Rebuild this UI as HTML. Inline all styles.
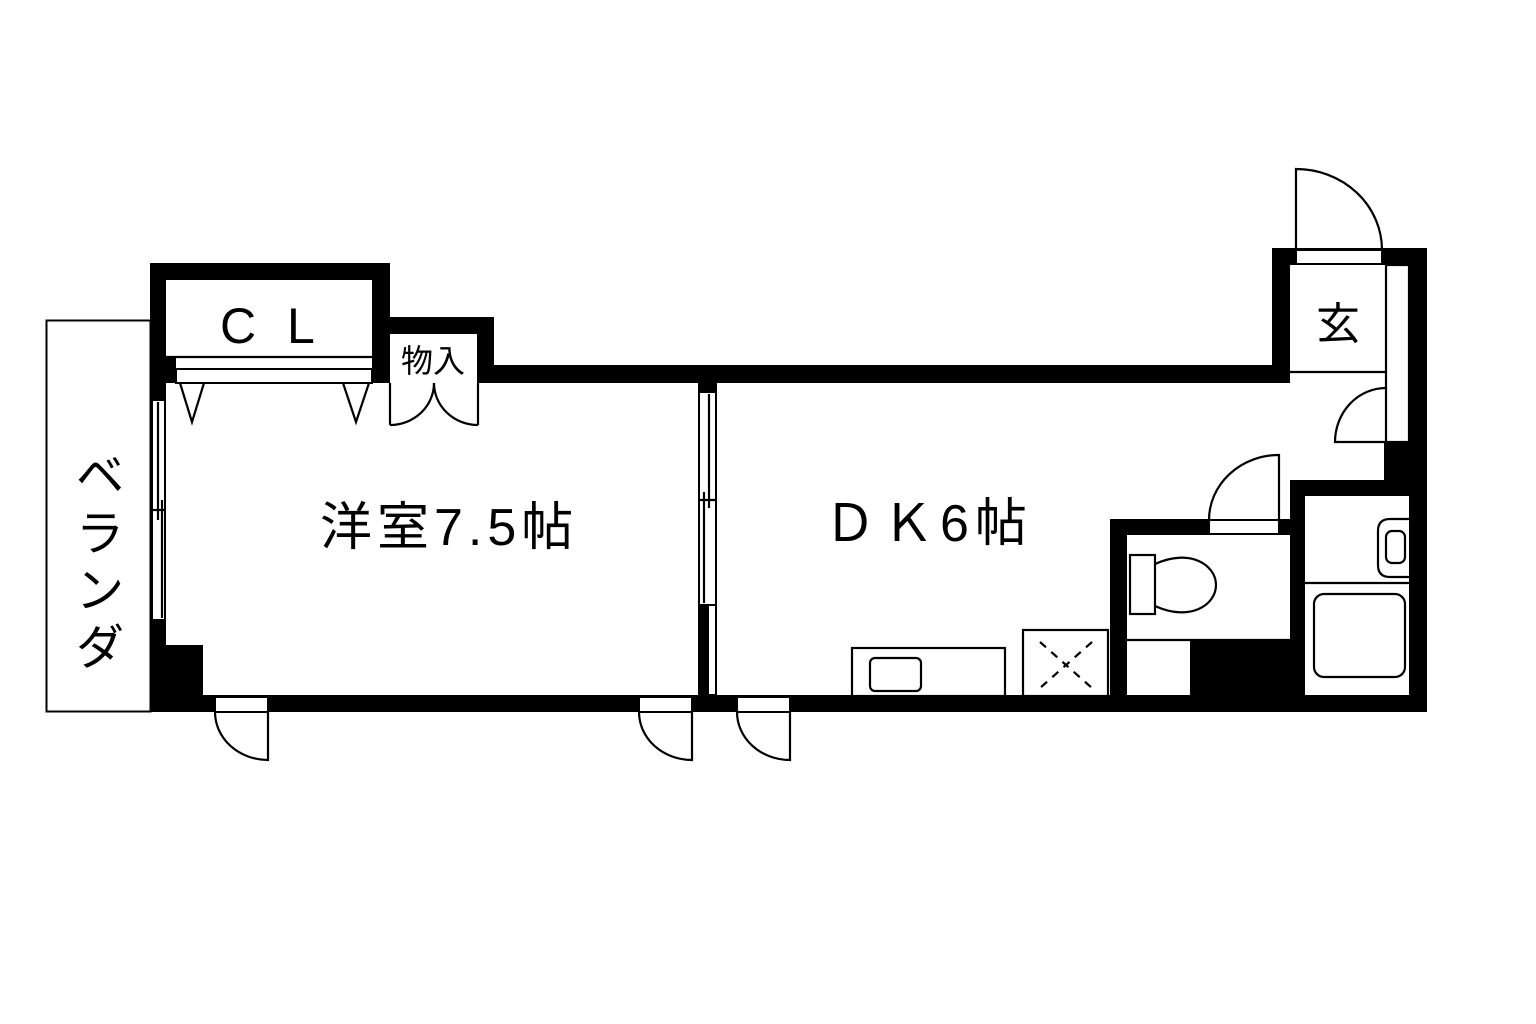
<!DOCTYPE html>
<html><head><meta charset="utf-8"><style>
html,body{margin:0;padding:0;background:#fff;}
svg{display:block}
text{font-family:"Liberation Sans","Noto Sans CJK JP",sans-serif;fill:#000}
</style></head><body>
<svg width="1536" height="1024" viewBox="0 0 1536 1024" xmlns="http://www.w3.org/2000/svg">
<rect width="1536" height="1024" fill="#fff"/>
<rect x="46.5" y="320.5" width="104" height="391" fill="none" stroke="#000" stroke-width="2"/>
<text font-size="48" x="100" y="492" text-anchor="middle">ベ</text>
<text font-size="48" x="100" y="550" text-anchor="middle">ラ</text>
<text font-size="48" x="100" y="607" text-anchor="middle">ン</text>
<text font-size="48" x="100" y="664" text-anchor="middle">ダ</text>
<g fill="#000">
<rect x="150" y="263" width="16" height="449"/>
<rect x="150" y="645" width="53" height="67"/>
<rect x="150" y="263" width="240" height="17"/>
<rect x="372" y="263" width="18" height="120"/>
<rect x="166" y="357" width="10" height="26"/>
<rect x="372" y="317" width="122" height="17"/>
<rect x="477" y="317" width="17" height="66"/>
<rect x="477" y="365" width="813" height="18"/>
<rect x="1272" y="248" width="18" height="135"/>
<rect x="1272" y="248" width="155" height="17"/>
<rect x="1409" y="248" width="18" height="464"/>
<rect x="1384" y="442" width="43" height="40"/>
<rect x="1290" y="480" width="137" height="16"/>
<rect x="1290" y="480" width="15" height="232"/>
<rect x="1110" y="519" width="195" height="16"/>
<rect x="1110" y="519" width="17" height="193"/>
<rect x="1190" y="640" width="115" height="72"/>
<rect x="150" y="695" width="1277" height="17"/>
<rect x="698" y="383" width="19" height="12"/>
<rect x="698" y="605" width="10" height="95"/>
</g>
<g fill="#fff" stroke="#000" stroke-width="2">
<rect x="152" y="400" width="13" height="220"/>
<rect x="699" y="392" width="17" height="213"/>
<rect x="708" y="605" width="8" height="90"/>
<rect x="176" y="369" width="196" height="14"/>
<rect x="215" y="697" width="53" height="15"/>
<rect x="639" y="697" width="53" height="15"/>
<rect x="737" y="697" width="53" height="15"/>
<rect x="1296" y="250" width="86" height="14"/>
<rect x="1209" y="520" width="70" height="14"/>
</g>
<g fill="none" stroke="#000" stroke-width="2.2">
<line x1="158" y1="402" x2="158" y2="520"/><line x1="162" y1="500" x2="162" y2="618"/><line x1="152" y1="510" x2="165" y2="510"/>
<line x1="709" y1="394" x2="709" y2="508"/><line x1="704" y1="492" x2="704" y2="603"/><line x1="699" y1="500" x2="716" y2="500"/>
<line x1="166" y1="357" x2="372" y2="357"/>
<polyline points="180,383 192,422 204,383"/>
<polyline points="343,383 356,422 369,383"/>
<line x1="390" y1="383" x2="390" y2="425"/><line x1="478" y1="383" x2="478" y2="425"/>
<path d="M390,425 A44,42 0 0 0 434,383"/>
<path d="M478,425 A44,42 0 0 1 434,383"/>
<path d="M268,712 L268,760 A53,48 0 0 1 215,712"/>
<path d="M692,712 L692,760 A53,48 0 0 1 639,712"/>
<path d="M790,712 L790,760 A53,48 0 0 1 737,712"/>
<path d="M1296,250 L1296,169 A86,81 0 0 1 1382,250"/>
<rect x="1386" y="265" width="23" height="177"/>
<line x1="1290" y1="372" x2="1386" y2="372"/>
<path d="M1386,388 A51,54 0 0 0 1335,442 L1386,442"/>
<path d="M1279,520 L1279,455 A70,65 0 0 0 1209,520"/>
<line x1="1127" y1="640" x2="1290" y2="640"/>
<rect x="1130" y="555" width="25" height="59"/>
<path d="M1155,564 C1190,548 1216,565 1216,585 C1216,605 1190,622 1155,606"/>
<line x1="1305" y1="583" x2="1410" y2="583"/>
<path d="M1410,519 L1390,519 Q1378,519 1378,531 L1378,565 Q1378,577 1390,577 L1410,577"/>
<rect x="1386" y="531" width="19" height="32" rx="6"/>
<rect x="1314" y="594" width="91" height="83" rx="10"/>
<rect x="852" y="648" width="153" height="48"/>
<rect x="870" y="658" width="51" height="33" rx="5"/>
<rect x="1023" y="630" width="85" height="66"/>
<line x1="1040" y1="642" x2="1092" y2="688" stroke-dasharray="8,7"/>
<line x1="1092" y1="642" x2="1040" y2="688" stroke-dasharray="8,7"/>
</g>
<text font-size="50" x="220" y="343">C</text>
<text font-size="50" x="287" y="343">L</text>
<text font-size="32" x="433" y="372" text-anchor="middle">物入</text>
<text font-size="44" x="1338" y="339" text-anchor="middle">玄</text>
<text font-size="52" x="320" y="545" letter-spacing="5">洋室7.5帖</text>
<text font-size="52" x="824" y="541" letter-spacing="6">ＤＫ6帖</text>
</svg>
</body></html>
